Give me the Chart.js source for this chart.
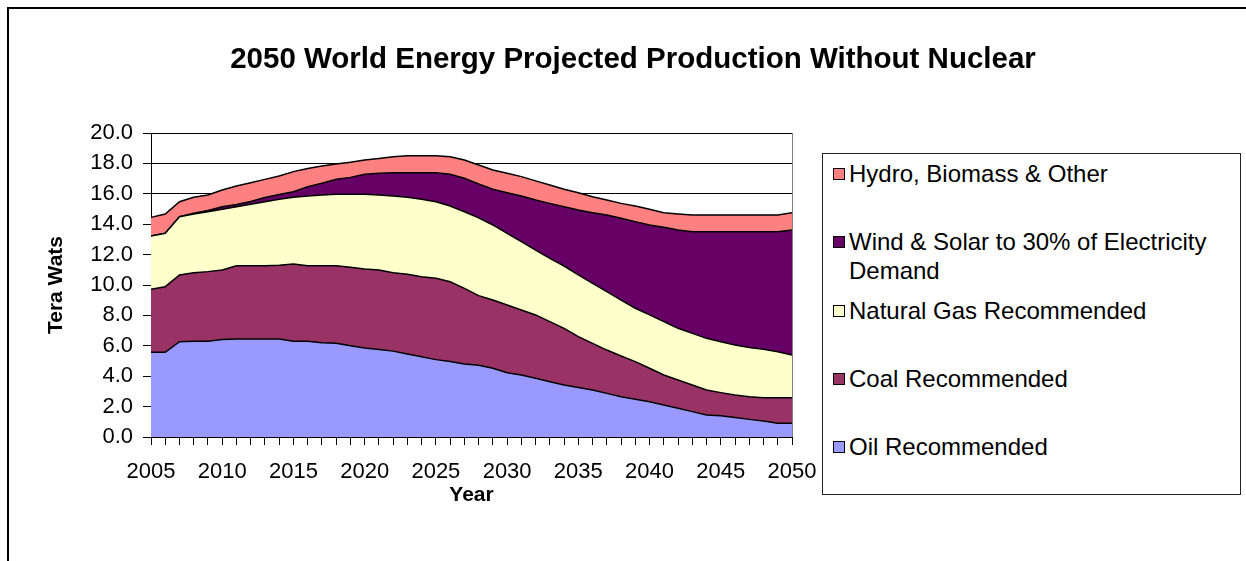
<!DOCTYPE html>
<html>
<head>
<meta charset="utf-8">
<title>2050 World Energy Projected Production Without Nuclear</title>
<script src="https://cdn.jsdelivr.net/npm/chart.js@4.4.1/dist/chart.umd.min.js"></script>
<style>
  body { margin: 0; background: #fff; font-family: "Liberation Sans", Arial, sans-serif; }
  #wrap { position: relative; width: 1246px; height: 561px; overflow: hidden; }
  #frame { position: absolute; left: 7px; top: 7px; right: -10px; bottom: -10px;
           border-top: 2px solid #000; border-left: 2px solid #000; }
  #energyChart { position: absolute; left: 0; top: 0; }
  #title { position: absolute; left: 0; top: 40px; width: 1266px; text-align: center;
           font-size: 29.5px; font-weight: bold; line-height: 35px; color: #000; }
  #legend { position: absolute; left: 822px; top: 153px; width: 417px; height: 340px;
            border: 1px solid #222; background: #fff; }
  .item { position: absolute; left: 10px; font-size: 24px; line-height: 29px; color: #000; }
  .item .sw { position: absolute; left: 0; top: 9px; width: 10px; height: 10px; border: 1px solid #000; }
  .item .txt { position: absolute; left: 16px; width: 385px; white-space: normal; }
</style>
</head>
<body>
<div id="wrap">
  <div id="frame"></div>
  <canvas id="energyChart" width="1246" height="561"></canvas>
  <div id="title">2050 World Energy Projected Production Without Nuclear</div>
  <div id="legend"></div>
</div>
<script>
// years on the category axis
const years = ["2005","2006","2007","2008","2009","2010","2011","2012","2013","2014",
               "2015","2016","2017","2018","2019","2020","2021","2022","2023","2024",
               "2025","2026","2027","2028","2029","2030","2031","2032","2033","2034",
               "2035","2036","2037","2038","2039","2040","2041","2042","2043","2044",
               "2045","2046","2047","2048","2049","2050"];

// production per source, terawatts (stacked from oil upward)
const oil = [5.57,5.57,6.27,6.30,6.30,6.42,6.45,6.45,6.45,6.45,
             6.30,6.30,6.20,6.16,6.00,5.85,5.76,5.65,5.46,5.28,
             5.09,4.96,4.80,4.72,4.52,4.23,4.08,3.86,3.64,3.42,
             3.25,3.09,2.87,2.65,2.48,2.32,2.10,1.89,1.67,1.45,
             1.40,1.29,1.16,1.05,0.90,0.90];
const coal = [4.15,4.32,4.39,4.51,4.58,4.57,4.82,4.82,4.82,4.85,
              5.08,4.97,5.07,5.11,5.16,5.20,5.23,5.16,5.24,5.27,
              5.35,5.26,4.98,4.58,4.49,4.45,4.28,4.17,3.95,3.73,
              3.35,3.07,2.85,2.68,2.48,2.20,1.98,1.86,1.75,1.64,
              1.52,1.47,1.49,1.54,1.69,1.69];
const gas = [3.50,3.51,3.83,3.86,3.94,3.99,3.88,4.04,4.21,4.34,
             4.39,4.59,4.65,4.70,4.81,4.92,4.93,5.05,5.07,5.09,
             5.04,4.98,5.04,5.12,4.94,4.72,4.49,4.27,4.16,4.10,
             4.06,3.95,3.84,3.68,3.51,3.51,3.51,3.40,3.40,3.40,
             3.35,3.29,3.24,3.18,3.02,2.80];
const wind = [0.00,0.00,0.00,0.05,0.08,0.17,0.15,0.19,0.27,0.31,
              0.37,0.61,0.77,0.98,1.11,1.31,1.43,1.53,1.62,1.75,
              1.91,2.08,2.20,2.23,2.35,2.67,3.01,3.29,3.62,3.90,
              4.27,4.65,5.04,5.38,5.70,5.92,6.21,6.47,6.69,7.02,
              7.24,7.46,7.62,7.74,7.90,8.23];
const hydro = [1.23,1.27,0.99,1.05,1.02,1.10,1.21,1.23,1.20,1.22,
               1.32,1.20,1.14,1.01,0.99,0.94,0.98,1.05,1.12,1.12,
               1.12,1.16,1.20,1.25,1.27,1.28,1.27,1.26,1.21,1.15,
               1.14,1.05,0.99,0.98,1.03,1.03,0.96,1.05,1.09,1.09,
               1.09,1.09,1.09,1.09,1.09,1.14];

const seriesNames = ["Oil Recommended", "Coal Recommended", "Natural Gas Recommended",
                     "Wind & Solar to 30% of Electricity Demand", "Hydro, Biomass & Other"];
const seriesColors = ["#9999ff", "#993366", "#ffffcc", "#660066", "#ff8080"];
const seriesData = [oil, coal, gas, wind, hydro];

const font = '"Liberation Sans", Arial, sans-serif';
Chart.defaults.color = "#000";
Chart.defaults.font.family = font;

// gray border on the right side of the plot area
const plotFrame = {
  id: "plotFrame",
  afterDatasetsDraw(chart) {
    const a = chart.chartArea;
    const c = chart.ctx;
    c.save();
    c.strokeStyle = "#808080";
    c.lineWidth = 1;
    c.beginPath();
    c.moveTo(Math.round(a.right) + 0.5, a.top);
    c.lineTo(Math.round(a.right) + 0.5, a.bottom);
    c.stroke();
    c.restore();
  }
};

const datasets = seriesData.map((d, i) => ({
  label: seriesNames[i],
  data: d,
  backgroundColor: seriesColors[i],
  borderColor: "#000",
  borderWidth: 1.5,
  fill: i === 0 ? "origin" : "-1",
  pointRadius: 0,
  tension: 0
}));

let chart = new Chart(document.getElementById("energyChart"), {
  type: "line",
  data: { labels: years, datasets: datasets },
  plugins: [plotFrame],
  options: {
    responsive: false,
    animation: false,
    devicePixelRatio: 1,
    layout: { padding: { left: 0, top: 133, right: 454, bottom: 0 } },
    plugins: {
      legend: { display: false },
      tooltip: { enabled: false },
      title: { display: false }
    },
    scales: {
      x: {
        offset: false,
        afterFit: s => { s.height = 124; },
        grid: { drawOnChartArea: false, drawTicks: true, tickLength: 8, color: "#000" },
        border: { color: "#000", width: 1 },
        ticks: {
          autoSkip: false, maxRotation: 0, padding: 14,
          font: { size: 22 },
          callback: function (v) {
            const lab = this.getLabelForValue(v);
            return Number(lab) % 5 === 0 ? lab : "";
          }
        },
        title: {
          display: true, text: "Year",
          font: { size: 21, weight: "bold" },
          padding: { top: 0, bottom: 53 }
        }
      },
      y: {
        stacked: true,
        min: 0, max: 20,
        afterFit: s => { s.width = 151; },
        grid: { color: "#000", lineWidth: 1, tickLength: 8 },
        border: { color: "#000", width: 1 },
        ticks: {
          stepSize: 2, padding: 10,
          font: { size: 22 },
          callback: v => v.toFixed(1)
        },
        title: {
          display: true, text: "Tera Wats",
          font: { size: 21, weight: "bold" },
          padding: { top: 44, bottom: 0 }
        }
      }
    }
  }
});

// legend box, top entry = top of the stack
const legend = document.getElementById("legend");
datasets.slice().reverse().forEach((ds, i) => {
  const item = document.createElement("div");
  item.className = "item";
  item.style.top = (5 + i * 68.3) + "px";
  item.innerHTML = '<span class="sw" style="background:' + ds.backgroundColor + '"></span>' +
                   '<span class="txt"></span>';
  item.querySelector(".txt").textContent = ds.label;
  legend.appendChild(item);
});
</script>
</body>
</html>
